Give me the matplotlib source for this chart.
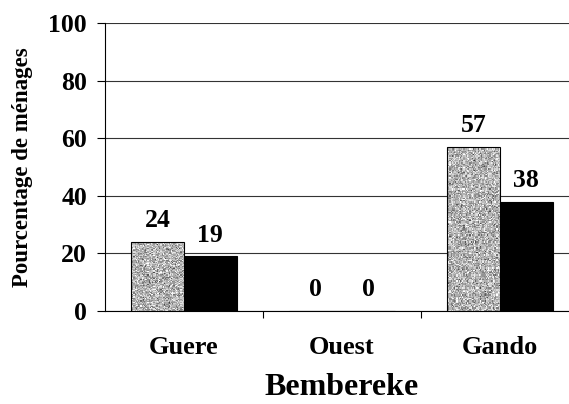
import numpy as np
import matplotlib
matplotlib.use("Agg")
import matplotlib.pyplot as plt

# Données
categories = ["Guere", "Ouest", "Gando"]
serie_1 = [24, 0, 57]   # barres grises mouchetées
serie_2 = [19, 0, 38]   # barres noires
y_ticks = [0, 20, 40, 60, 80, 100]

plt.rcParams["font.family"] = ["Liberation Serif", "DejaVu Serif"]
plt.rcParams["font.weight"] = "bold"

fig = plt.figure(figsize=(5.69, 4.04), dpi=100)
# l'axe déborde volontairement à droite (image rognée dans l'original)
ax = fig.add_axes([105 / 569, 93 / 404, 474 / 569, 288 / 404])

x = np.arange(len(categories))
w = 1 / 3
b1 = ax.bar(x - w / 2, serie_1, w, color="#b8b8b8", edgecolor="black", linewidth=0.8, zorder=3)
b2 = ax.bar(x + w / 2, serie_2, w, color="black", edgecolor="black", linewidth=0.8, zorder=3)

# texture mouchetée (décor uniquement)
rng = np.random.default_rng(3)
tex = rng.normal(0.70, 0.14, (140, 45))
for rect in b1:
    if rect.get_height() <= 0:
        continue
    x0 = rect.get_x()
    im = ax.imshow(tex, cmap="gray", vmin=0, vmax=1, aspect="auto", interpolation="nearest",
                   extent=[x0, x0 + rect.get_width(), 0, rect.get_height()], zorder=3.5)
    im.set_clip_path(rect)
    rect.set_zorder(4)
    rect.set_facecolor("none")

for bars, vals in [(b1, serie_1), (b2, serie_2)]:
    for rect, v in zip(bars, vals):
        ax.annotate(f"{v}", (rect.get_x() + rect.get_width() / 2, v), xytext=(0, 7),
                    textcoords="offset points", ha="center", va="bottom",
                    fontsize=18.5, fontweight="bold")

ax.set_xlim(-0.5, 2.5)
ax.set_ylim(0, 100)
ax.set_yticks(y_ticks)
ax.set_xticks(x)
ax.set_xticklabels(categories)
ax.set_xticks([0.5, 1.5], minor=True)
ax.tick_params(axis="x", which="major", length=0, pad=18, labelsize=19)
ax.tick_params(axis="x", which="minor", length=5, width=0.8, direction="out")
ax.tick_params(axis="y", length=6, width=0.8, pad=7, labelsize=18.5)

ax.grid(axis="y", color="#333333", linewidth=0.8, zorder=0)
ax.set_axisbelow(True)
for s in ["top", "right"]:
    ax.spines[s].set_visible(False)
for s in ["left", "bottom"]:
    ax.spines[s].set_linewidth(0.8)
    ax.spines[s].set_zorder(5)

ax.set_ylabel("Pourcentage de ménages", fontsize=16.5, fontweight="bold", labelpad=11)
ax.set_xlabel("Bembereke", fontsize=23, fontweight="bold", labelpad=10)

fig.savefig("out.png", dpi=100)
